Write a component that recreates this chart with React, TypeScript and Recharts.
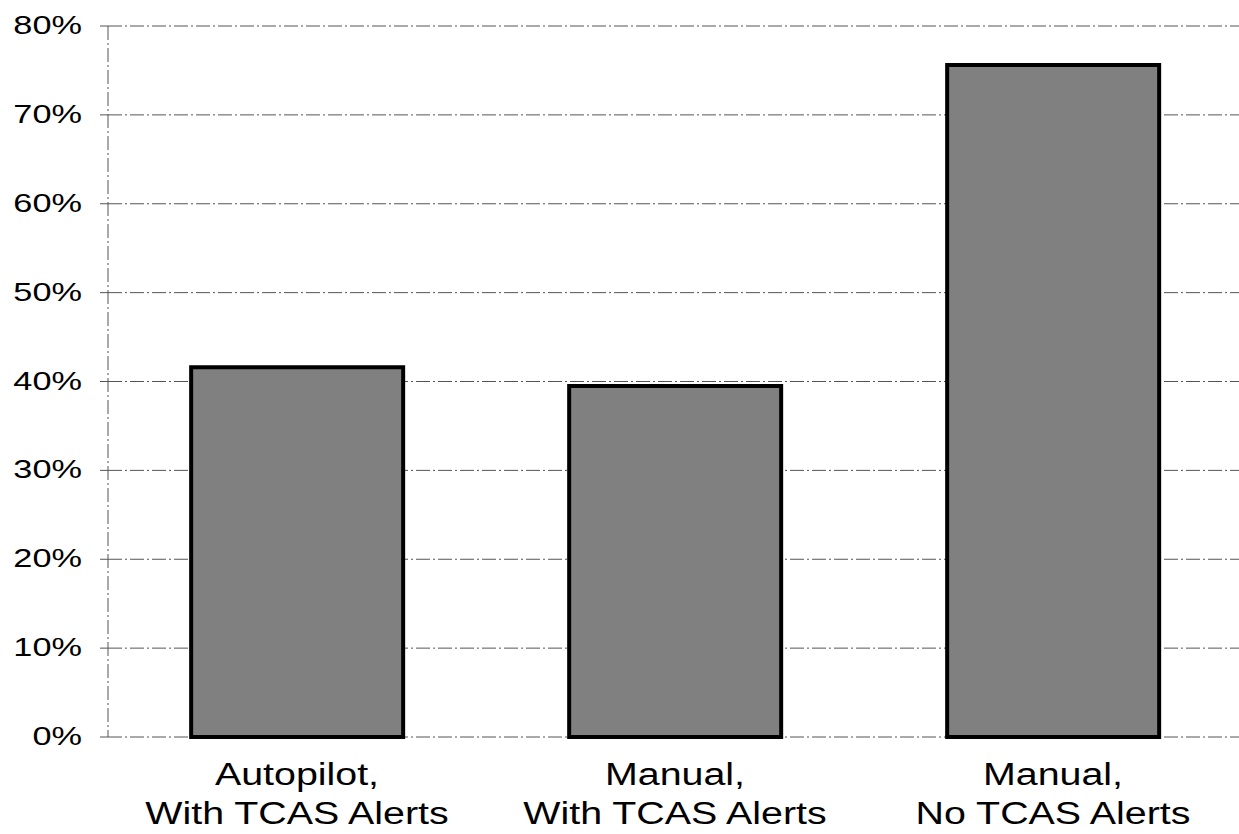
import React from 'react';
import { BarChart, Bar, XAxis, YAxis, CartesianGrid } from 'recharts';

const categories = ['Autopilot,|With TCAS Alerts', 'Manual,|With TCAS Alerts', 'Manual,|No TCAS Alerts'];
const shares = [41.6, 39.5, 75.6];
const yTicks = [0, 10, 20, 30, 40, 50, 60, 70, 80];

const data = categories.map((name, i) => ({ name, value: shares[i] }));

const font = '"Liberation Sans", Arial, sans-serif';

// the scanned lettering is wider than Arial, so stretch it horizontally
function CategoryTick({ x, y, payload }: any) {
  const lines = String(payload.value).split('|');
  return (
    <g transform={`translate(${x},${y}) scale(1.27,1)`}>
      <text x={0} y={0} textAnchor="middle" fontFamily={font} fontSize={31} fill="#000">
        {lines.map((l, i) => (
          <tspan key={i} x={0} dy={i === 0 ? 40 : 39}>{l}</tspan>
        ))}
      </text>
    </g>
  );
}

function PercentTick({ x, y, payload }: any) {
  return (
    <g transform={`translate(${x},${y}) scale(1.32,1)`}>
      <text x={0} y={0} dy={8} textAnchor="end" fontFamily={font} fontSize={26} fill="#000">
        {`${payload.value}%`}
      </text>
    </g>
  );
}

export default function App() {
  return (
    <div style={{ position: 'absolute', left: 0, top: 0, background: '#fff' }}>
      <BarChart
        width={1239}
        height={834}
        data={data}
        margin={{ top: 26, right: -3, left: 0, bottom: 0 }}
        barCategoryGap="22%"
      >
        <CartesianGrid
          vertical={false}
          stroke="#555"
          strokeWidth={1}
          strokeDasharray="14 3 2 3"
        />
        <XAxis
          dataKey="name"
          axisLine={false}
          tickLine={false}
          interval={0}
          tick={<CategoryTick />}
          height={97}
        />
        <YAxis
          domain={[0, 80]}
          ticks={yTicks}
          width={108}
          axisLine={{ stroke: '#555', strokeDasharray: '14 3 2 3' }}
          tickLine={{ stroke: '#555' }}
          tickSize={8}
          tickMargin={18}
          tick={<PercentTick />}
        />
        <Bar
          dataKey="value"
          fill="#808080"
          stroke="#000"
          strokeWidth={4}
          isAnimationActive={false}
        />
      </BarChart>
    </div>
  );
}
